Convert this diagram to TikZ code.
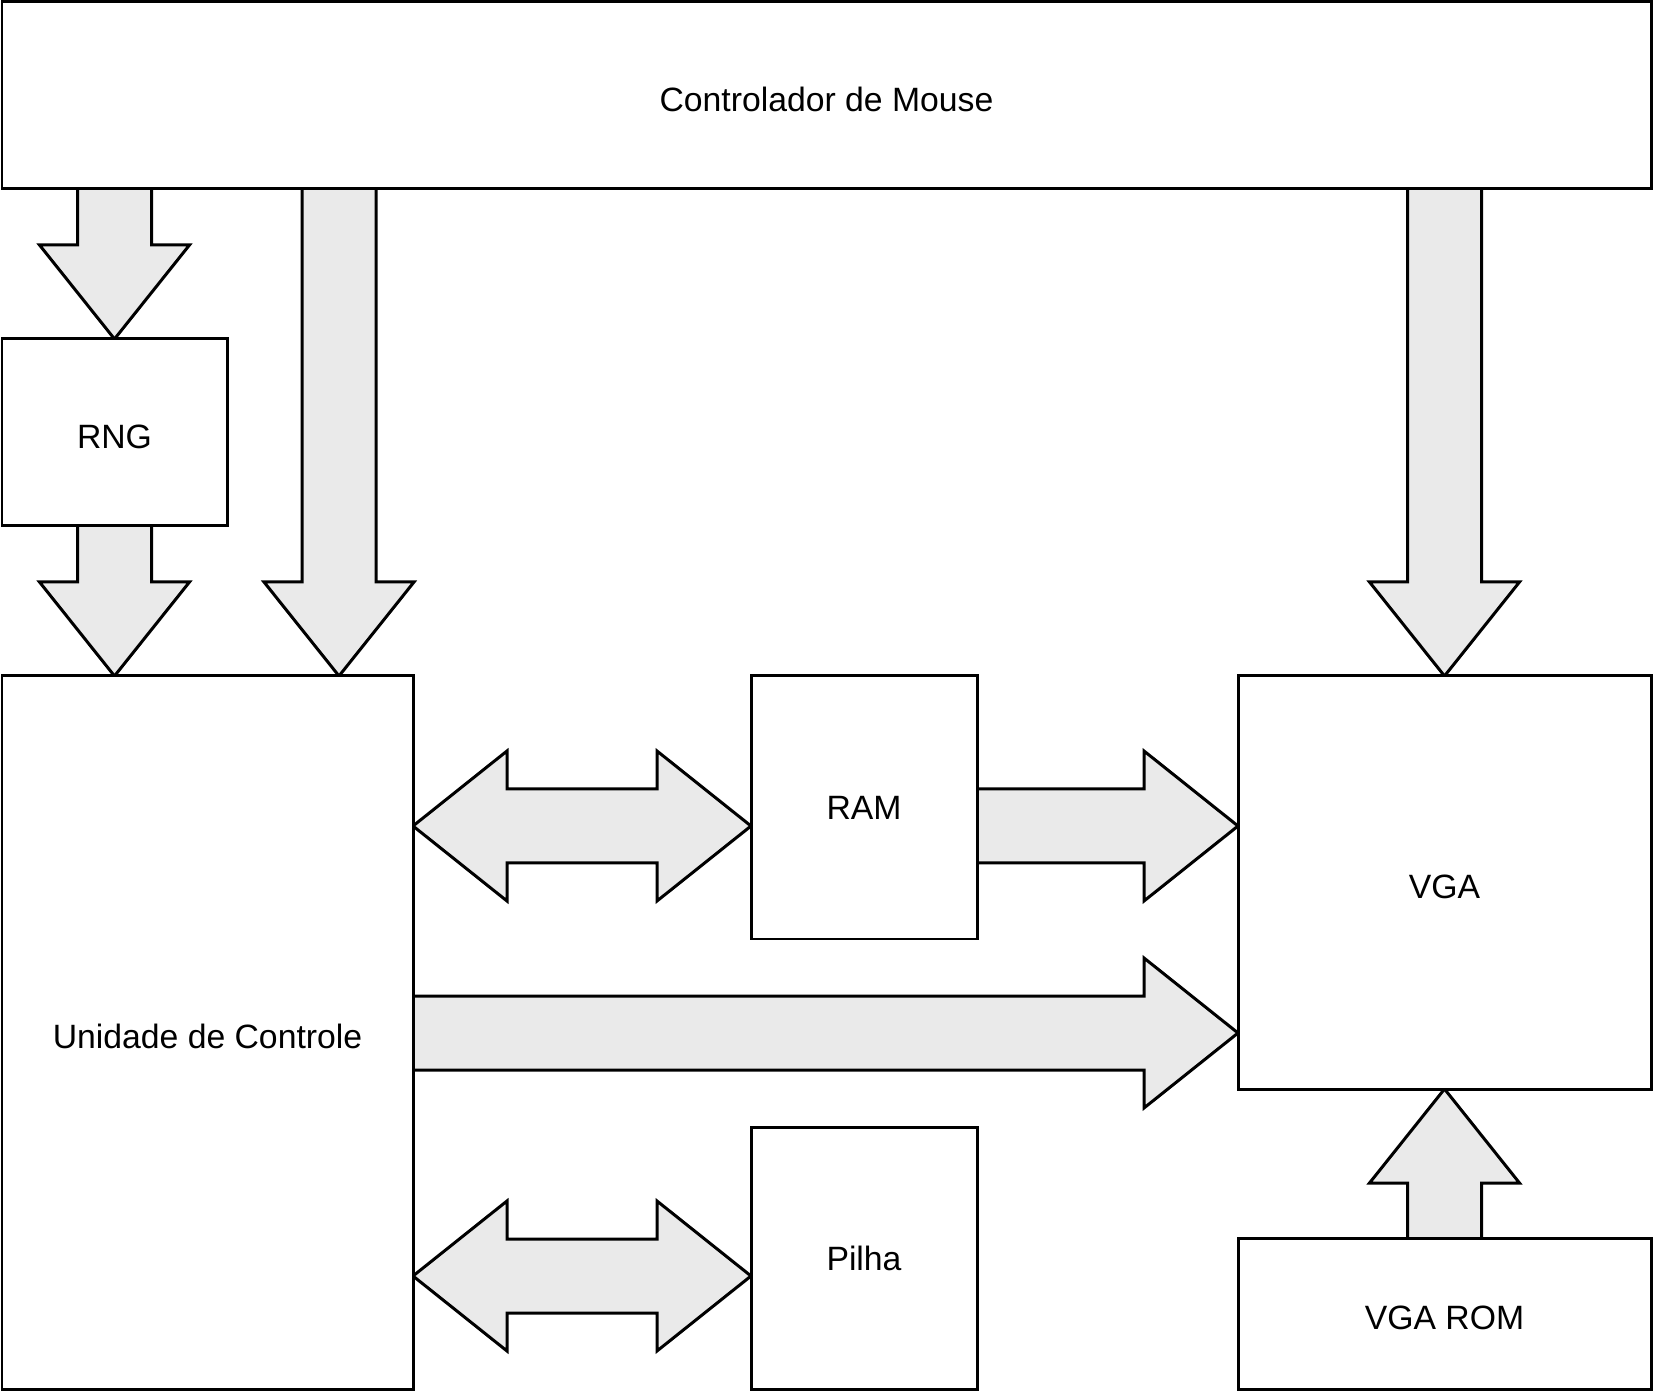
\documentclass[tikz,border=0pt]{standalone}
\usepackage{fontspec}
\setmainfont{Liberation Sans}
\usetikzlibrary{calc,backgrounds}
\definecolor{arrowgray}{RGB}{234,234,234}
\tikzset{
  blk/.style 2 args={draw=black, line width=0.06cm, fill=white, inner sep=0pt, outer sep=0pt,
    minimum width={#1*0.02cm}, minimum height={#2*0.02cm}, anchor=north west,
    font=\fontsize{19.2}{22}\selectfont, text height=13.8pt, text depth=0pt},
  lowtext/.style={text height=17.8pt},
  barrow/.style={draw=black, line width=0.06cm, fill=arrowgray, line join=miter}
}
\newcommand\arrowdown[2]{%
  \path[barrow] ($(#1)+(-37,0)$) -- ($(#2)+(-37,-94)$) -- ($(#2)+(-75,-94)$) -- (#2) -- ($(#2)+(75,-94)$) -- ($(#2)+(37,-94)$) -- ($(#1)+(37,0)$);}
\newcommand\arrowup[2]{%
  \path[barrow] ($(#1)+(-37,0)$) -- ($(#2)+(-37,94)$) -- ($(#2)+(-75,94)$) -- (#2) -- ($(#2)+(75,94)$) -- ($(#2)+(37,94)$) -- ($(#1)+(37,0)$);}
\newcommand\arrowright[2]{%
  \path[barrow] ($(#1)+(0,-37)$) -- ($(#2)+(-94,-37)$) -- ($(#2)+(-94,-75)$) -- (#2) -- ($(#2)+(-94,75)$) -- ($(#2)+(-94,37)$) -- ($(#1)+(0,37)$);}
\newcommand\arrowboth[2]{%
  \path[barrow] (#1) -- ($(#1)+(94,-75)$) -- ($(#1)+(94,-37)$) -- ($(#2)+(-94,-37)$) -- ($(#2)+(-94,-75)$) -- (#2) -- ($(#2)+(-94,75)$) -- ($(#2)+(-94,37)$) -- ($(#1)+(94,37)$) -- ($(#1)+(94,75)$) -- cycle;}
\begin{document}
\begin{tikzpicture}[x=0.02cm, y=-0.02cm]
\useasboundingbox (0,0) rectangle (1654,1391);
\node[blk={1649}{187}, lowtext] (ctrl) at (2,2) {Controlador de Mouse};
\node[blk={225}{187}, lowtext] (rng) at (2,339) {RNG};
\node[blk={411}{713}, lowtext] (cu) at (2,676) {Unidade de Controle};
\node[blk={226}{263}] (ram) at (751,676) {RAM};
\node[blk={226}{262}] (pilha) at (751,1127) {Pilha};
\node[blk={413}{413}, lowtext] (vga) at (1238,676) {VGA};
\node[blk={413}{151}, lowtext] (rom) at (1238,1238) {VGA ROM};
\coordinate (cutip) at ($(cu.north east)+(-74,0)$);
\coordinate (r1) at ($(ram.north west)+(0,150)$);
\coordinate (v1) at ($(vga.south west)+(0,-56)$);
\coordinate (p1) at ($(pilha.north west)+(0,149)$);
\begin{scope}[on background layer]
\arrowdown{rng.north |- ctrl.south}{rng.north}
\arrowdown{rng.south}{rng.south |- cu.north}
\arrowdown{cutip |- ctrl.south}{cutip}
\arrowdown{vga.north |- ctrl.south}{vga.north}
\arrowboth{cu.east |- r1}{r1}
\arrowright{ram.east |- r1}{vga.west |- r1}
\arrowright{cu.east |- v1}{v1}
\arrowboth{cu.east |- p1}{p1}
\arrowup{rom.north}{vga.south}
\end{scope}
\end{tikzpicture}
\end{document}
